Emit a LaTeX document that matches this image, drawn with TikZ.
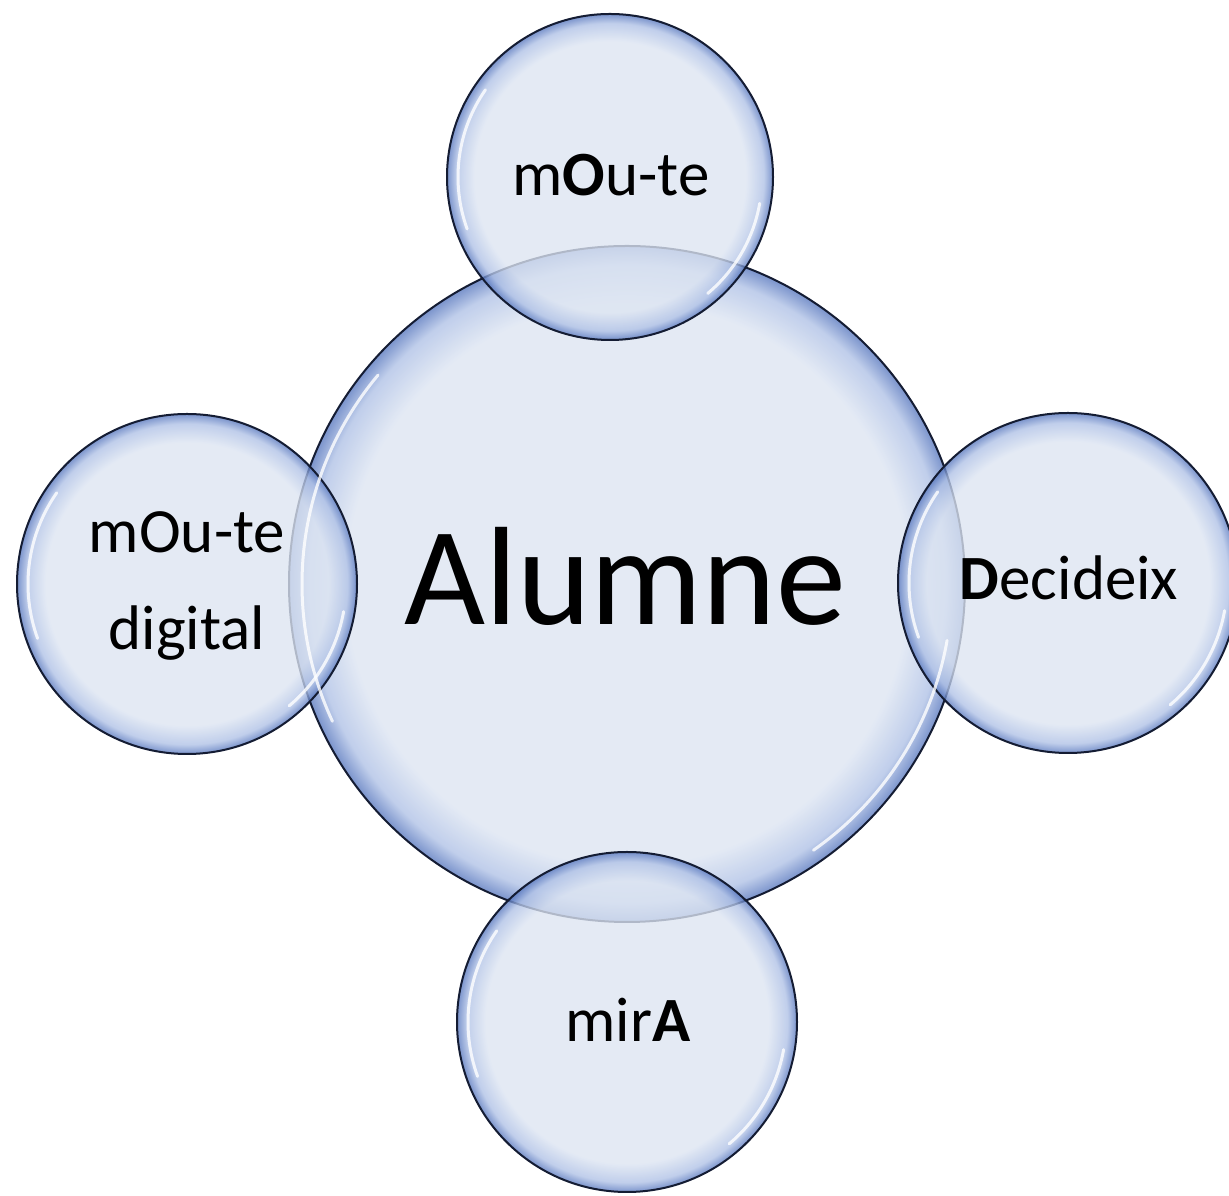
\documentclass[tikz,border=0pt]{standalone}
\usepackage{fontspec}
\setmainfont{Carlito}
\definecolor{bubin}{HTML}{DDE5F2}
\definecolor{bubmid}{HTML}{AFC1E6}
\definecolor{bubedge}{HTML}{5676BE}
\definecolor{bubline}{HTML}{141C33}
\pgfdeclareradialshading{bubble}{\pgfpoint{0bp}{0bp}}{color(0bp)=(bubin); color(20.8bp)=(bubin); color(23.6bp)=(bubmid); color(25bp)=(bubedge); color(50bp)=(bubedge)}
\tikzset{
  bubblenode/.style={circle, draw=bubline, line width=2pt, shading=bubble, fill opacity=0.78, inner sep=0pt, minimum size=#1},
  hl/.style={white, line width=3pt, opacity=0.8, line cap=round},
  small/.style={font=\fontsize{63}{63}\selectfont, anchor=base, text=black},
  big/.style={font=\fontsize{140}{140}\selectfont, anchor=base, text=black}
}
\begin{document}
\begin{tikzpicture}[x=1pt,y=1pt]
\clip (0,0) rectangle (1229,1196);
\useasboundingbox (0,0) rectangle (1229,1196);
\fill[white] (0,0) rectangle (1229,1196);
% circles
\node[bubblenode=676pt] (c) at (627,612) {};
\node[bubblenode=326pt] (t) at (610,1019) {};
\node[bubblenode=340pt] (l) at (187,612) {};
\node[bubblenode=340pt] (r) at (1068,613) {};
\node[bubblenode=340pt] (b) at (627,174) {};
% highlights
\draw[hl] ([shift={(140:325)}]c.center) arc[start angle=140, end angle=205, radius=325];
\draw[hl] ([shift={(-55:325)}]c.center) arc[start angle=-55, end angle=-10, radius=325];
\draw[hl] ([shift={(145:152)}]t.center) arc[start angle=145, end angle=200, radius=152];
\draw[hl] ([shift={(-50:152)}]t.center) arc[start angle=-50, end angle=-10, radius=152];
\draw[hl] ([shift={(145:159)}]l.center) arc[start angle=145, end angle=200, radius=159];
\draw[hl] ([shift={(-50:159)}]l.center) arc[start angle=-50, end angle=-10, radius=159];
\draw[hl] ([shift={(145:159)}]r.center) arc[start angle=145, end angle=200, radius=159];
\draw[hl] ([shift={(-50:159)}]r.center) arc[start angle=-50, end angle=-10, radius=159];
\draw[hl] ([shift={(145:159)}]b.center) arc[start angle=145, end angle=200, radius=159];
\draw[hl] ([shift={(-50:159)}]b.center) arc[start angle=-50, end angle=-10, radius=159];
% texts
\node[big] (tc) at (625,571) {Alumne};
\node[small] (tt) at (611,1000) {m\textbf{O}u-te};
\node[small] (tl1) at (187,643) {mOu-te};
\node[small] (tl2) at (187,546) {digital};
\node[small] (tr) at (1069,596) {\textbf{D}ecideix};
\node[small] (tb) at (628,154) {mir\textbf{A}};
\end{tikzpicture}
\end{document}
